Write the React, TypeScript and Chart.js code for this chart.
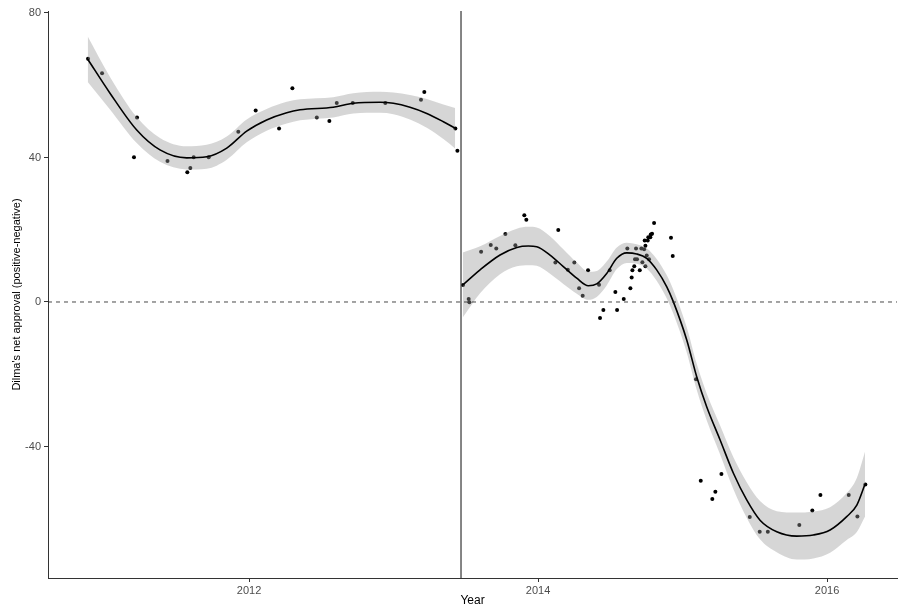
import React, { useEffect, useRef } from 'react';
import { Chart, registerables } from 'chart.js';

Chart.register(...registerables);

// ---- Data ----
const pointYears = [
  2010.886, 2010.983, 2011.204, 2011.225, 2011.436, 2011.573, 2011.594, 2011.617, 2011.721, 2011.926,
  2012.046, 2012.208, 2012.300, 2012.469, 2012.556, 2012.607, 2012.718, 2012.943, 2013.190, 2013.213,
  2013.428, 2013.442,
  2013.481, 2013.520, 2013.525, 2013.606, 2013.673, 2013.711, 2013.774, 2013.843, 2013.905, 2013.919,
  2014.120, 2014.140, 2014.206, 2014.251, 2014.284, 2014.309, 2014.346, 2014.422, 2014.429, 2014.452,
  2014.496, 2014.535, 2014.547, 2014.593, 2014.618, 2014.639, 2014.648, 2014.653, 2014.666, 2014.678,
  2014.671, 2014.685, 2014.704, 2014.715, 2014.722, 2014.734, 2014.738, 2014.743, 2014.752, 2014.759,
  2014.763, 2014.777, 2014.780, 2014.789, 2014.803, 2014.768, 2014.743, 2014.920, 2014.932,
  2015.093, 2015.126, 2015.206, 2015.227, 2015.269, 2015.465, 2015.534, 2015.590, 2015.808, 2015.898,
  2015.954, 2016.150, 2016.210, 2016.265,
];
const pointValues = [
  67.3, 63.3, 40.1, 51.1, 39.0, 35.9, 37.1, 40.1, 40.1, 47.1,
  53.0, 48.0, 59.2, 51.1, 50.1, 55.1, 55.1, 55.1, 56.0, 58.1,
  48.0, 41.9,
  4.7, 0.8, -0.1, 13.9, 15.8, 14.8, 18.8, 15.7, 24.0, 22.8,
  10.9, 19.9, 8.9, 10.9, 3.8, 1.7, 8.8, 4.8, -4.4, -2.2,
  8.8, 2.8, -2.2, 0.8, 14.8, 3.8, 6.8, 8.8, 9.9, 14.8,
  11.8, 11.8, 8.8, 14.8, 11.0, 14.6, 17.0, 15.6, 12.9, 17.0,
  17.9, 17.9, 18.7, 18.9, 21.9, 11.8, 9.9, 17.8, 12.7,
  -21.4, -49.5, -54.5, -52.5, -47.6, -59.5, -63.6, -63.6, -61.7, -57.7,
  -53.4, -53.4, -59.4, -50.5,
];

// Smoothed fit, first period
const fitYears1 = [
  2010.884, 2011.038, 2011.223, 2011.384, 2011.569, 2011.707, 2011.846, 2011.984, 2012.122, 2012.261,
  2012.353, 2012.583, 2012.722, 2012.907, 2012.999, 2013.114, 2013.230, 2013.345, 2013.426,
];
const fitValues1 = [
  67.2, 57.8, 47.6, 42.1, 39.9, 40.2, 42.6, 47.3, 50.4, 52.4,
  53.2, 53.9, 55.0, 55.3, 55.0, 53.9, 52.2, 49.9, 48.1,
];
const fitUpper1 = [
  73.5, 62.3, 51.2, 45.4, 43.1, 43.5, 45.8, 50.5, 53.4, 55.4,
  56.1, 56.7, 57.8, 58.2, 58.0, 57.3, 56.2, 54.7, 53.7,
];
const fitLower1 = [
  60.9, 53.3, 44.0, 38.8, 36.7, 36.9, 39.4, 44.2, 47.4, 49.4,
  50.3, 51.1, 52.2, 52.4, 52.0, 50.5, 48.2, 45.1, 42.5,
];

// Smoothed fit, second period
const fitYears2 = [
  2013.479, 2013.599, 2013.737, 2013.853, 2013.933, 2013.991, 2014.083, 2014.175, 2014.268, 2014.348,
  2014.406, 2014.475, 2014.545, 2014.614, 2014.683, 2014.752, 2014.821, 2014.891, 2014.936, 2015.029,
  2015.098, 2015.167, 2015.260, 2015.352, 2015.444, 2015.536, 2015.652, 2015.790, 2015.905, 2016.021,
  2016.136, 2016.206, 2016.263,
];
const fitValues2 = [
  4.7, 8.9, 13.0, 15.1, 15.5, 15.3, 13.0, 9.8, 6.6, 4.5,
  5.0, 7.9, 12.1, 13.6, 13.3, 12.1, 8.9, 4.2, 0.1, -10.5,
  -20.7, -29.0, -38.2, -47.4, -54.8, -60.4, -63.6, -64.8, -64.5, -63.1,
  -59.4, -56.2, -50.4,
];
const fitUpper2 = [
  13.7, 15.4, 18.3, 20.3, 20.8, 20.6, 18.2, 14.6, 10.9, 8.4,
  8.6, 11.2, 15.1, 16.4, 16.0, 14.9, 11.9, 7.4, 3.4, -7.0,
  -17.1, -25.3, -34.2, -43.0, -49.9, -55.1, -57.9, -58.3, -58.0, -56.8,
  -52.9, -48.7, -41.4,
];
const fitLower2 = [
  -4.3, 2.4, 7.7, 9.9, 10.2, 10.0, 7.8, 5.0, 2.3, 0.6,
  1.4, 4.6, 9.1, 10.8, 10.6, 9.3, 5.9, 1.0, -3.2, -14.0,
  -24.3, -32.7, -42.2, -51.8, -59.7, -65.7, -69.3, -71.3, -71.0, -69.4,
  -65.9, -63.7, -59.4,
];

const xTicks = [2012, 2014, 2016];
const yTicks = [-40, 0, 40, 80];
const breakYear = 2013.467;
const xRange = [2010.609, 2016.484];
const yRange = [-76.4, 80.55];

const xLabel = 'Year';
const yLabel = "Dilma's net approval (positive-negative)";

const toXY = (xs: number[], ys: number[]) => xs.map((x, i) => ({ x, y: ys[i] }));

export default function App() {
  const ref = useRef<HTMLCanvasElement | null>(null);

  useEffect(() => {
    if (!ref.current) return;
    const bandColor = 'rgba(153,153,153,0.4)';
    const chart = new Chart(ref.current, {
      type: 'line',
      data: {
        datasets: [
          {
            label: 'ref0',
            data: [{ x: xRange[0], y: 0 }, { x: xRange[1], y: 0 }],
            borderColor: 'rgba(40,40,40,0.85)',
            borderWidth: 1,
            borderDash: [4, 4],
            pointRadius: 0,
            fill: false,
            order: 0,
          },
          {
            label: 'break',
            data: [{ x: breakYear, y: yRange[0] }, { x: breakYear, y: yRange[1] }],
            borderColor: '#333333',
            borderWidth: 1.2,
            pointRadius: 0,
            fill: false,
            order: 0,
          },
          {
            label: 'fit1',
            data: toXY(fitYears1, fitValues1),
            borderColor: '#000000',
            borderWidth: 1.6,
            pointRadius: 0,
            cubicInterpolationMode: 'monotone',
            fill: false,
            order: 1,
          },
          {
            label: 'fit2',
            data: toXY(fitYears2, fitValues2),
            borderColor: '#000000',
            borderWidth: 1.6,
            pointRadius: 0,
            cubicInterpolationMode: 'monotone',
            fill: false,
            order: 1,
          },
          {
            label: 'up1',
            data: toXY(fitYears1, fitUpper1),
            borderWidth: 0,
            borderColor: 'rgba(0,0,0,0)',
            backgroundColor: bandColor,
            pointRadius: 0,
            cubicInterpolationMode: 'monotone',
            fill: '+1',
            order: 3,
          },
          {
            label: 'lo1',
            data: toXY(fitYears1, fitLower1),
            borderWidth: 0,
            borderColor: 'rgba(0,0,0,0)',
            pointRadius: 0,
            cubicInterpolationMode: 'monotone',
            fill: false,
            order: 3,
          },
          {
            label: 'up2',
            data: toXY(fitYears2, fitUpper2),
            borderWidth: 0,
            borderColor: 'rgba(0,0,0,0)',
            backgroundColor: bandColor,
            pointRadius: 0,
            cubicInterpolationMode: 'monotone',
            fill: '+1',
            order: 3,
          },
          {
            label: 'lo2',
            data: toXY(fitYears2, fitLower2),
            borderWidth: 0,
            borderColor: 'rgba(0,0,0,0)',
            pointRadius: 0,
            cubicInterpolationMode: 'monotone',
            fill: false,
            order: 3,
          },
          {
            label: 'points',
            data: toXY(pointYears, pointValues),
            showLine: false,
            pointRadius: 2,
            pointBorderWidth: 0,
            pointBackgroundColor: '#000000',
            pointBorderColor: '#000000',
            order: 5,
          },
        ],
      },
      options: {
        responsive: false,
        animation: false,
        layout: { autoPadding: false, padding: { top: 11, right: 1, left: 0, bottom: 0 } },
        plugins: {
          legend: { display: false },
          tooltip: { enabled: false },
        },
        scales: {
          x: {
            type: 'linear',
            min: xRange[0],
            max: xRange[1],
            afterBuildTicks: (s: any) => {
              s.ticks = xTicks.map((v) => ({ value: v }));
            },
            afterFit: (s: any) => {
              s.height = 31;
            },
            ticks: {
              autoSkip: false,
              maxRotation: 0,
              padding: 2,
              color: '#4d4d4d',
              font: { family: 'Liberation Sans, Arial, sans-serif', size: 11 },
              callback: (v: any) => String(v),
            },
            grid: { display: true, drawOnChartArea: false, drawTicks: true, tickLength: 4, color: '#333333' },
            border: { display: true, color: '#333333', width: 1 },
            title: {
              display: true,
              text: xLabel,
              color: '#000000',
              font: { family: 'Liberation Sans, Arial, sans-serif', size: 12 },
              padding: { top: 0, bottom: 1 },
            },
          },
          y: {
            type: 'linear',
            min: yRange[0],
            max: yRange[1],
            afterBuildTicks: (s: any) => {
              s.ticks = yTicks.map((v) => ({ value: v }));
            },
            afterFit: (s: any) => {
              s.width = 48;
            },
            ticks: {
              autoSkip: false,
              padding: 3,
              color: '#4d4d4d',
              font: { family: 'Liberation Sans, Arial, sans-serif', size: 11 },
              callback: (v: any) => String(v),
            },
            grid: { display: true, drawOnChartArea: false, drawTicks: true, tickLength: 4, color: '#333333' },
            border: { display: true, color: '#333333', width: 1 },
            title: {
              display: true,
              text: yLabel,
              color: '#000000',
              font: { family: 'Liberation Sans Narrow, Liberation Sans, Arial, sans-serif', size: 11 },
              padding: { top: 10, bottom: 0 },
            },
          },
        },
      },
    } as any);
    return () => chart.destroy();
  }, []);

  return (
    <div style={{ position: 'absolute', left: 0, top: 0, width: 898, height: 609, background: '#ffffff' }}>
      <canvas ref={ref} width={898} height={609} style={{ width: 898, height: 609, display: 'block' }} />
    </div>
  );
}
